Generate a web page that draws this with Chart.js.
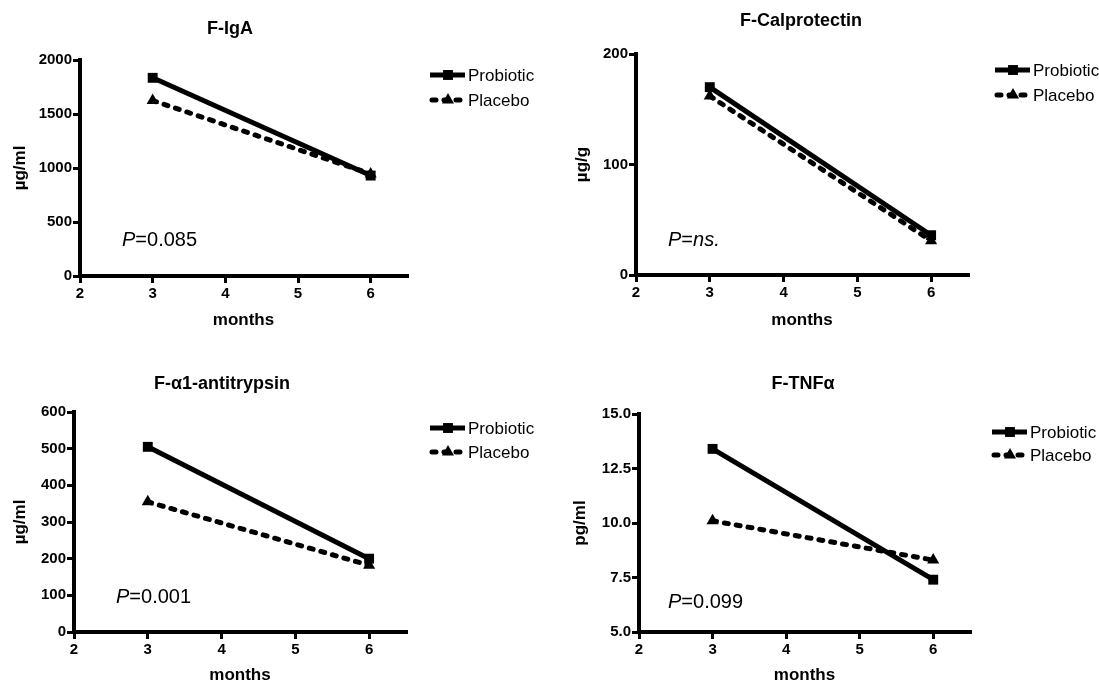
<!DOCTYPE html>
<html><head><meta charset="utf-8">
<script src="https://cdn.jsdelivr.net/npm/chart.js@4/dist/chart.umd.min.js"></script>
<style>
html,body{margin:0;padding:0;background:#fff;overflow:hidden;width:1099px;height:682px;}
#wrap{position:relative;width:1099px;height:682px;overflow:hidden;}
canvas{position:absolute;display:block;}
</style></head><body><div id="wrap">
<canvas id="c1" width="549" height="340" style="left:0;top:0"></canvas>
<canvas id="c2" width="550" height="340" style="left:549px;top:0"></canvas>
<canvas id="c3" width="549" height="360" style="left:0;top:341px"></canvas>
<canvas id="c4" width="550" height="360" style="left:549px;top:341px"></canvas>
</div>
<script>
// ---- data ----
const months = [3, 6];
const seriesNames = ['Probiotic', 'Placebo'];
const xTickValues = [2, 3, 4, 5, 6];

const igaProbiotic = [1835, 930];
const igaPlacebo = [1625, 945];
const igaYTicks = [0, 500, 1000, 1500, 2000];

const calProbiotic = [170, 36];
const calPlacebo = [162, 31];
const calYTicks = [0, 100, 200];

const aatProbiotic = [505, 200];
const aatPlacebo = [355, 182];
const aatYTicks = [0, 100, 200, 300, 400, 500, 600];

const tnfProbiotic = [13.4, 7.4];
const tnfPlacebo = [10.1, 8.3];
const tnfYTicks = [5.0, 7.5, 10.0, 12.5, 15.0];

const chartTitles = ['F-IgA', 'F-Calprotectin', 'F-\u03b11-antitrypsin', 'F-TNF\u03b1'];
const yLabels = ['\u00b5g/ml', '\u00b5g/g', '\u00b5g/ml', 'pg/ml'];
const xLabel = 'months';
const pLabels = [['P', '=0.085', ''], ['P', '=', 'ns.'], ['P', '=0.001', ''], ['P', '=0.099', '']];

// ---- drawing ----
const FONT = '"Liberation Sans", Arial, Helvetica, sans-serif';
Chart.defaults.font.family = FONT;
Chart.defaults.color = '#000';

function drawMarker(ctx, style, x, y, r) {
  ctx.beginPath();
  if (style === 'rect') {
    const s = r * Math.SQRT1_2;
    ctx.rect(x - s, y - s, 2 * s, 2 * s);
  } else {
    const half = r * Math.sqrt(3) / 2;
    ctx.moveTo(x, y - r);
    ctx.lineTo(x + half, y + r / 2);
    ctx.lineTo(x - half, y + r / 2);
    ctx.closePath();
  }
  ctx.fill();
}

const annotPlugin = {
  id: 'annot',
  afterDraw(chart, args, o) {
    const ctx = chart.ctx;
    ctx.save();
    ctx.fillStyle = '#000';
    ctx.strokeStyle = '#000';
    // title
    ctx.font = 'bold 18px ' + FONT;
    ctx.textAlign = 'center';
    ctx.textBaseline = 'middle';
    ctx.fillText(o.title, o.titleX, o.titleY);
    // legend
    chart.data.datasets.forEach((ds, i) => {
      const y = o.legY[i];
      ctx.beginPath();
      ctx.lineWidth = ds.borderWidth;
      ctx.setLineDash(ds.borderDash || []);
      ctx.lineCap = ds.borderCapStyle || 'butt';
      ctx.moveTo(o.legX + (ds.borderDash ? 2 : 0), y);
      ctx.lineTo(o.legX + 35, y);
      ctx.stroke();
      ctx.setLineDash([]);
      drawMarker(ctx, ds.pointStyle, o.legX + 18, y, 7);
      ctx.font = '17px ' + FONT;
      ctx.textAlign = 'left';
      ctx.textBaseline = 'middle';
      ctx.fillText(ds.label, o.legX + 38, y + 1);
    });
    // P annotation
    const [pa, pb, pc] = o.p;
    let x = o.pX;
    ctx.textAlign = 'left';
    ctx.textBaseline = 'middle';
    ctx.font = 'italic 20px ' + FONT;
    ctx.fillText(pa, x, o.pY); x += ctx.measureText(pa).width;
    ctx.font = '20px ' + FONT;
    ctx.fillText(pb, x, o.pY); x += ctx.measureText(pb).width;
    ctx.font = 'italic 20px ' + FONT;
    ctx.fillText(pc, x, o.pY);
    ctx.restore();
  }
};

function makeChart(id, W, H, area, probiotic, placebo, yTicks, yFmt, idx, ann, yTitlePad, xTitlePad) {
  const ctx = document.getElementById(id).getContext('2d');
  const yMin = yTicks[0], yMax = yTicks[yTicks.length - 1];
  const step = yTicks[1] - yTicks[0];
  return new Chart(ctx, {
    type: 'line',
    data: {
      datasets: [
        {
          label: seriesNames[0],
          data: months.map((m, i) => ({ x: m, y: probiotic[i] })),
          borderColor: '#000', backgroundColor: '#000',
          borderWidth: 5, pointStyle: 'rect', pointRadius: 7,
          pointBackgroundColor: '#000', pointBorderWidth: 0, fill: false
        },
        {
          label: seriesNames[1],
          data: months.map((m, i) => ({ x: m, y: placebo[i] })),
          borderColor: '#000', backgroundColor: '#000',
          borderWidth: 5, borderDash: [4, 8], borderCapStyle: 'round',
          pointStyle: 'triangle', pointRadius: 7,
          pointBackgroundColor: '#000', pointBorderWidth: 0, fill: false
        }
      ]
    },
    options: {
      responsive: false, animation: false, events: [],
      layout: { padding: { left: 0, top: area.t, right: W - area.r, bottom: 0 } },
      plugins: {
        legend: { display: false }, title: { display: false }, tooltip: { enabled: false },
        annot: Object.assign({ title: chartTitles[idx], p: pLabels[idx] }, ann)
      },
      scales: {
        x: {
          type: 'linear', min: 2, max: 6.5,
          afterFit: s => { s.height = H - area.b; },
          afterBuildTicks: s => { s.ticks = xTickValues.map(v => ({ value: v })); },
          ticks: { stepSize: 1, includeBounds: false, color: '#000', padding: 2, maxRotation: 0, autoSkip: false,
                   font: { family: FONT, size: 15, weight: 'bold' } },
          grid: { drawOnChartArea: false, drawTicks: true, tickLength: 7, lineWidth: 3, color: '#000' },
          border: { display: true, width: 4, color: '#000' },
          title: { display: true, text: xLabel, color: '#000', font: { family: FONT, size: 17, weight: 'bold' },
                   padding: { top: 0, bottom: xTitlePad } }
        },
        y: {
          type: 'linear', min: yMin, max: yMax,
          afterFit: s => { s.width = area.l; },
          afterBuildTicks: s => { s.ticks = yTicks.map(v => ({ value: v })); },
          ticks: { stepSize: step, color: '#000', padding: 1, callback: yFmt,
                   font: { family: FONT, size: 15, weight: 'bold' } },
          grid: { drawOnChartArea: false, drawTicks: true, tickLength: 7, lineWidth: 3, color: '#000' },
          border: { display: true, width: 4, color: '#000' },
          title: { display: true, text: yLabels[idx], color: '#000', font: { family: FONT, size: 17, weight: 'bold' },
                   padding: { top: yTitlePad, bottom: 0 } }
        }
      }
    },
    plugins: [annotPlugin]
  });
}

const intFmt = v => String(v);
const oneDec = v => Number(v).toFixed(1);

makeChart('c1', 549, 340, { l: 80, t: 60, r: 407, b: 276 }, igaProbiotic, igaPlacebo, igaYTicks, intFmt, 0,
  { titleX: 230, titleY: 29, legX: 430, legY: [75, 100], pX: 122, pY: 240 }, 10, 9);
makeChart('c2', 550, 340, { l: 87, t: 54, r: 419, b: 275 }, calProbiotic, calPlacebo, calYTicks, intFmt, 1,
  { titleX: 252, titleY: 21, legX: 446, legY: [70, 95], pX: 119, pY: 240 }, 23, 9);
makeChart('c3', 549, 360, { l: 74, t: 71, r: 406, b: 291 }, aatProbiotic, aatPlacebo, aatYTicks, intFmt, 2,
  { titleX: 222, titleY: 43, legX: 430, legY: [87, 111], pX: 116, pY: 256 }, 10, 15);
makeChart('c4', 550, 360, { l: 90, t: 73, r: 421, b: 291 }, tnfProbiotic, tnfPlacebo, tnfYTicks, oneDec, 3,
  { titleX: 254, titleY: 43, legX: 443, legY: [91, 114], pX: 119, pY: 261 }, 21, 15);
</script></body></html>
